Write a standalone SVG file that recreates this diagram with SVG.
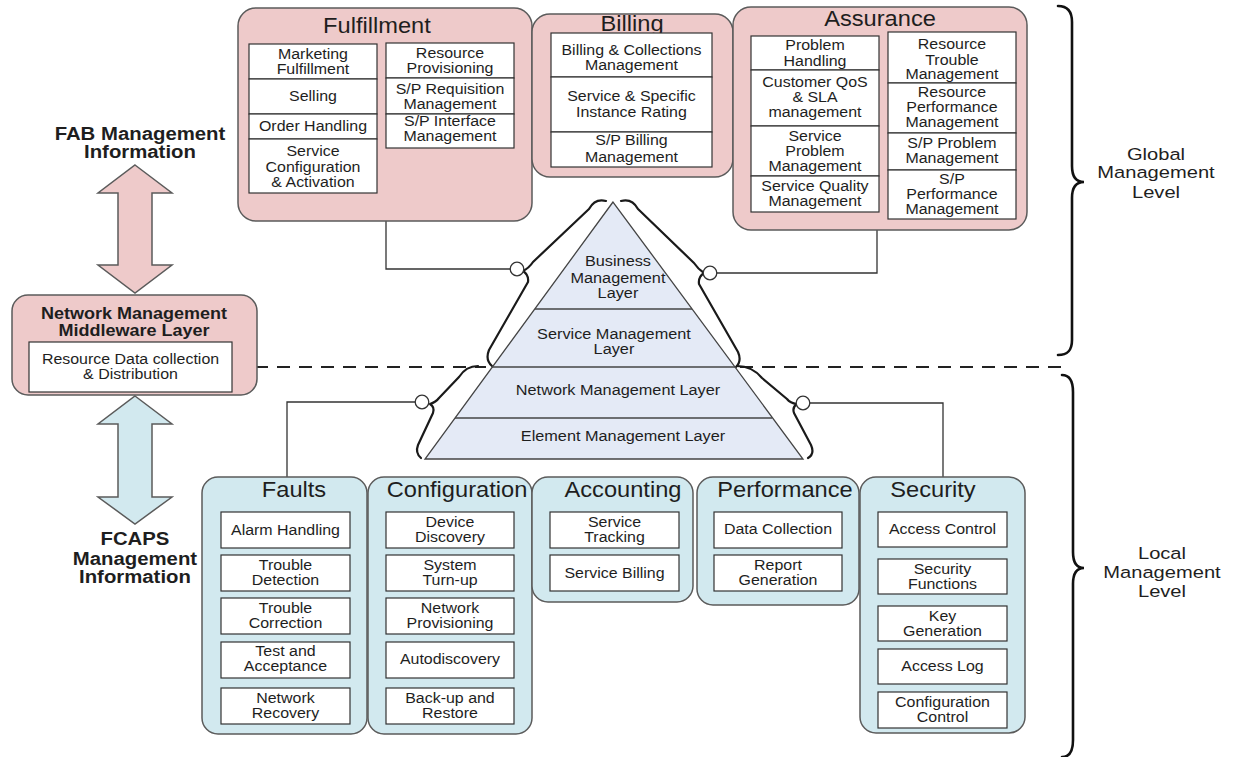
<svg xmlns="http://www.w3.org/2000/svg" width="1233" height="757" viewBox="0 0 1233 757">
<style>
  .pk { fill:#eecaca; stroke:#5b5b5b; stroke-width:1.5; }
  .bl { fill:#d2e9ef; stroke:#5b5b5b; stroke-width:1.5; }
  .cell { fill:#ffffff; stroke:#333333; stroke-width:1.2; }
  .wire { fill:none; stroke:#333333; stroke-width:1.3; }
  .knob { fill:#ffffff; stroke:#333333; stroke-width:1.3; }
  .brace { fill:none; stroke:#1a1a1a; stroke-width:2.2; stroke-linecap:round; stroke-linejoin:round; }
  .bigbrace { fill:none; stroke:#111111; stroke-width:2.6; stroke-linecap:round; }
  .dash { fill:none; stroke:#222222; stroke-width:2; stroke-dasharray:13 9; }
  .layer { fill:#e4eaf6; stroke:#444444; stroke-width:1.3; }
  text { font-family:"Liberation Sans", Arial, sans-serif; fill:#1e1e1e; text-anchor:middle;
         transform-box:fill-box; transform-origin:center; transform:scaleX(1.1); }
  .t { font-size:21.5px; }
  .c { font-size:14.5px; }
  .p { font-size:14.8px; }
  .b { font-size:18.5px; font-weight:bold; }
  .bm { font-size:15.8px; font-weight:bold; transform:scaleX(1.14); }
  .lv { font-size:16.5px; transform:scaleX(1.22); }
</style>

<!-- level separator -->
<g id="separator">
  <line class="dash" x1="233" y1="367" x2="486" y2="367"/>
  <line class="dash" x1="740" y1="367" x2="1066" y2="367"/>
</g>

<!-- FAB / FCAPS information arrows -->
<g id="fab-arrow">
  <polygon class="pk" points="135,165 172,193 152,193 152,265 172,265 135,293 98,265 118,265 118,193 98,193"/>
  <text class="b"><tspan x="140" y="140">FAB Management</tspan><tspan x="140" y="158.5">Information</tspan></text>
</g>
<g id="fcaps-arrow">
  <polygon class="bl" points="135,396 172,424 152,424 152,497 172,497 135,524 98,497 118,497 118,424 98,424"/>
  <text class="b"><tspan x="135" y="545.5">FCAPS</tspan><tspan x="135" y="565">Management</tspan><tspan x="135" y="583.5">Information</tspan></text>
</g>

<!-- middleware layer -->
<g id="middleware">
  <rect class="pk" x="12" y="295" width="245" height="100" rx="16"/>
  <text class="bm"><tspan x="134" y="319">Network Management</tspan><tspan x="134" y="336.5">Middleware Layer</tspan></text>
  <rect class="cell" x="29" y="342" width="203" height="50"/>
  <text class="c"><tspan x="130.5" y="364">Resource Data collection</tspan><tspan x="130.5" y="379.5">&amp; Distribution</tspan></text>
</g>

<!-- connectors -->
<g id="connectors">
  <polyline class="wire" points="386,221 386,269 510.5,269"/>
  <polyline class="wire" points="877,230 877,273 716.5,273"/>
  <polyline class="wire" points="287,477 287,402 415.5,402"/>
  <polyline class="wire" points="943,477 943,403 809.5,403"/>
  <path class="brace" d="M606,201 Q595,198 589,209 L533,262 Q529,268 523,271 Q529,275 528,282 L489,350 Q485,360 492,366"/>
  <path class="brace" d="M621,201 Q632,198 638,209 L694,263 Q698,269 704,273 Q698,277 699,284 L738,352 Q742,361 736,367"/>
  <path class="brace" d="M478,366 Q466,366 459,377 L439,398 Q436,402 430,404 Q435,407 433,413 L418,445 Q415,453 421,458"/>
  <path class="brace" d="M737,366 Q752,366 762,378 L787,399 Q790,403 797,404 Q792,407 794,413 L811,445 Q815,454 808,458"/>
  <circle class="knob" cx="517" cy="269" r="6.8"/>
  <circle class="knob" cx="710" cy="273" r="6.8"/>
  <circle class="knob" cx="422" cy="402" r="6.8"/>
  <circle class="knob" cx="803" cy="403" r="6.8"/>
</g>

<!-- management layer pyramid -->
<g id="pyramid">
  <polygon class="layer" points="613,202 425,459 803,459"/>
  <line class="layer" x1="535" y1="309" x2="692" y2="309"/>
  <line class="layer" x1="492" y1="367" x2="735" y2="367"/>
  <line class="layer" x1="455" y1="418" x2="772" y2="418"/>
  <text class="p"><tspan x="618" y="266.5">Business</tspan><tspan x="618" y="283">Management</tspan><tspan x="618" y="298.5">Layer</tspan></text>
  <text class="p"><tspan x="614" y="339">Service Management</tspan><tspan x="614" y="354">Layer</tspan></text>
  <text class="p" x="618" y="395">Network Management Layer</text>
  <text class="p" x="623" y="441">Element Management Layer</text>
</g>

<!-- Fulfillment -->
<g id="fulfillment">
  <rect class="pk" x="238" y="8" width="294" height="213" rx="18"/>
  <text class="t" x="377" y="33">Fulfillment</text>
  <rect class="cell" x="249" y="44" width="128" height="35"/>
  <rect class="cell" x="249" y="79" width="128" height="35"/>
  <rect class="cell" x="249" y="114" width="128" height="25"/>
  <rect class="cell" x="249" y="139" width="128" height="54"/>
  <rect class="cell" x="386" y="43" width="128" height="35"/>
  <rect class="cell" x="386" y="78" width="128" height="36"/>
  <rect class="cell" x="386" y="114" width="128" height="34"/>
  <text class="c"><tspan x="313" y="59">Marketing</tspan><tspan x="313" y="74">Fulfillment</tspan></text>
  <text class="c" x="313" y="101.5">Selling</text>
  <text class="c" x="313" y="131.5">Order Handling</text>
  <text class="c"><tspan x="313" y="156.5">Service</tspan><tspan x="313" y="172">Configuration</tspan><tspan x="313" y="187.5">&amp; Activation</tspan></text>
  <text class="c"><tspan x="450" y="58">Resource</tspan><tspan x="450" y="73.5">Provisioning</tspan></text>
  <text class="c"><tspan x="450" y="94">S/P Requisition</tspan><tspan x="450" y="109.5">Management</tspan></text>
  <text class="c"><tspan x="450" y="126">S/P Interface</tspan><tspan x="450" y="141.5">Management</tspan></text>
</g>

<!-- Billing -->
<g id="billing">
  <rect class="pk" x="532" y="14" width="201" height="163" rx="18"/>
  <text class="t" x="632" y="31">Billing</text>
  <rect class="cell" x="551" y="33" width="161" height="44"/>
  <rect class="cell" x="551" y="77" width="161" height="55"/>
  <rect class="cell" x="551" y="132" width="161" height="35"/>
  <text class="c"><tspan x="631.5" y="55">Billing &amp; Collections</tspan><tspan x="631.5" y="70">Management</tspan></text>
  <text class="c"><tspan x="631.5" y="101.5">Service &amp; Specific</tspan><tspan x="631.5" y="117">Instance Rating</tspan></text>
  <text class="c"><tspan x="631.5" y="145.5">S/P Billing</tspan><tspan x="631.5" y="162">Management</tspan></text>
</g>

<!-- Assurance -->
<g id="assurance">
  <rect class="pk" x="733" y="7" width="294" height="223" rx="18"/>
  <text class="t" x="880" y="26">Assurance</text>
  <rect class="cell" x="751" y="36" width="128" height="34"/>
  <rect class="cell" x="751" y="70" width="128" height="56"/>
  <rect class="cell" x="751" y="126" width="128" height="50"/>
  <rect class="cell" x="751" y="176" width="128" height="36"/>
  <rect class="cell" x="888" y="32" width="128" height="51"/>
  <rect class="cell" x="888" y="83" width="128" height="50"/>
  <rect class="cell" x="888" y="133" width="128" height="37"/>
  <rect class="cell" x="888" y="170" width="128" height="49"/>
  <text class="c"><tspan x="815" y="50.5">Problem</tspan><tspan x="815" y="66">Handling</tspan></text>
  <text class="c"><tspan x="815" y="87.5">Customer QoS</tspan><tspan x="815" y="102.5">&amp; SLA</tspan><tspan x="815" y="117.5">management</tspan></text>
  <text class="c"><tspan x="815" y="141">Service</tspan><tspan x="815" y="156">Problem</tspan><tspan x="815" y="171">Management</tspan></text>
  <text class="c"><tspan x="815" y="191">Service Quality</tspan><tspan x="815" y="206.5">Management</tspan></text>
  <text class="c"><tspan x="952" y="49.5">Resource</tspan><tspan x="952" y="65">Trouble</tspan><tspan x="952" y="79.5">Management</tspan></text>
  <text class="c"><tspan x="952" y="97.5">Resource</tspan><tspan x="952" y="112.5">Performance</tspan><tspan x="952" y="127.5">Management</tspan></text>
  <text class="c"><tspan x="952" y="148.5">S/P Problem</tspan><tspan x="952" y="163.5">Management</tspan></text>
  <text class="c"><tspan x="952" y="184">S/P</tspan><tspan x="952" y="199.5">Performance</tspan><tspan x="952" y="214.5">Management</tspan></text>
</g>

<!-- Faults -->
<g id="faults">
  <rect class="bl" x="202" y="477" width="165" height="257" rx="16"/>
  <text class="t" x="294" y="497">Faults</text>
  <rect class="cell" x="221" y="512" width="129" height="36"/>
  <rect class="cell" x="221" y="555" width="129" height="36"/>
  <rect class="cell" x="221" y="598" width="129" height="36"/>
  <rect class="cell" x="221" y="642" width="129" height="36"/>
  <rect class="cell" x="221" y="688" width="129" height="36"/>
  <text class="c" x="285.5" y="535">Alarm Handling</text>
  <text class="c"><tspan x="285.5" y="570">Trouble</tspan><tspan x="285.5" y="585.5">Detection</tspan></text>
  <text class="c"><tspan x="285.5" y="613.5">Trouble</tspan><tspan x="285.5" y="628.5">Correction</tspan></text>
  <text class="c"><tspan x="285.5" y="656">Test and</tspan><tspan x="285.5" y="671">Acceptance</tspan></text>
  <text class="c"><tspan x="285.5" y="703">Network</tspan><tspan x="285.5" y="718.5">Recovery</tspan></text>
</g>

<!-- Configuration -->
<g id="configuration">
  <rect class="bl" x="368" y="477" width="164" height="257" rx="16"/>
  <text class="t" x="457" y="497">Configuration</text>
  <rect class="cell" x="386" y="512" width="128" height="36"/>
  <rect class="cell" x="386" y="555" width="128" height="36"/>
  <rect class="cell" x="386" y="598" width="128" height="36"/>
  <rect class="cell" x="386" y="642" width="128" height="36"/>
  <rect class="cell" x="386" y="688" width="128" height="36"/>
  <text class="c"><tspan x="450" y="527">Device</tspan><tspan x="450" y="542.5">Discovery</tspan></text>
  <text class="c"><tspan x="450" y="570">System</tspan><tspan x="450" y="585.5">Turn-up</tspan></text>
  <text class="c"><tspan x="450" y="613.5">Network</tspan><tspan x="450" y="628.5">Provisioning</tspan></text>
  <text class="c" x="450" y="664">Autodiscovery</text>
  <text class="c"><tspan x="450" y="703">Back-up and</tspan><tspan x="450" y="718.5">Restore</tspan></text>
</g>

<!-- Accounting -->
<g id="accounting">
  <rect class="bl" x="532" y="477" width="161" height="125" rx="16"/>
  <text class="t" x="623" y="497">Accounting</text>
  <rect class="cell" x="550" y="512" width="129" height="36"/>
  <rect class="cell" x="550" y="555" width="129" height="36"/>
  <text class="c"><tspan x="614.5" y="527">Service</tspan><tspan x="614.5" y="542.5">Tracking</tspan></text>
  <text class="c" x="614.5" y="578.5">Service Billing</text>
</g>

<!-- Performance -->
<g id="performance">
  <rect class="bl" x="697" y="477" width="162" height="128" rx="16"/>
  <text class="t" x="785" y="497">Performance</text>
  <rect class="cell" x="714" y="512" width="128" height="36"/>
  <rect class="cell" x="714" y="555" width="128" height="36"/>
  <text class="c" x="778" y="534.5">Data Collection</text>
  <text class="c"><tspan x="778" y="570">Report</tspan><tspan x="778" y="585.5">Generation</tspan></text>
</g>

<!-- Security -->
<g id="security">
  <rect class="bl" x="860" y="477" width="165" height="256" rx="16"/>
  <text class="t" x="933" y="497">Security</text>
  <rect class="cell" x="878" y="512" width="129" height="35"/>
  <rect class="cell" x="878" y="559" width="129" height="35"/>
  <rect class="cell" x="878" y="606" width="129" height="35"/>
  <rect class="cell" x="878" y="649" width="129" height="35"/>
  <rect class="cell" x="878" y="692" width="129" height="36"/>
  <text class="c" x="942.5" y="534.5">Access Control</text>
  <text class="c"><tspan x="942.5" y="574">Security</tspan><tspan x="942.5" y="589.5">Functions</tspan></text>
  <text class="c"><tspan x="942.5" y="621">Key</tspan><tspan x="942.5" y="636">Generation</tspan></text>
  <text class="c" x="942.5" y="671">Access Log</text>
  <text class="c"><tspan x="942.5" y="707.5">Configuration</tspan><tspan x="942.5" y="722.5">Control</tspan></text>
</g>

<!-- management levels -->
<g id="global-level">
  <path class="bigbrace" d="M1058,6 C1068,6 1072,12 1072,22 L1072,166 C1072,176 1075,182 1084,182 C1075,182 1072,188 1072,198 L1072,340 C1072,350 1068,355 1058,355"/>
  <text class="lv"><tspan x="1156" y="160">Global</tspan><tspan x="1156" y="178.5">Management</tspan><tspan x="1156" y="198">Level</tspan></text>
</g>
<g id="local-level">
  <path class="bigbrace" d="M1062,375 C1070,375 1073,382 1073,392 L1073,552 C1073,562 1076,568 1084,568 C1076,568 1073,574 1073,584 L1073,740 C1073,750 1070,757 1062,757"/>
  <text class="lv"><tspan x="1162" y="559.5">Local</tspan><tspan x="1162" y="578.5">Management</tspan><tspan x="1162" y="597.5">Level</tspan></text>
</g>
</svg>
